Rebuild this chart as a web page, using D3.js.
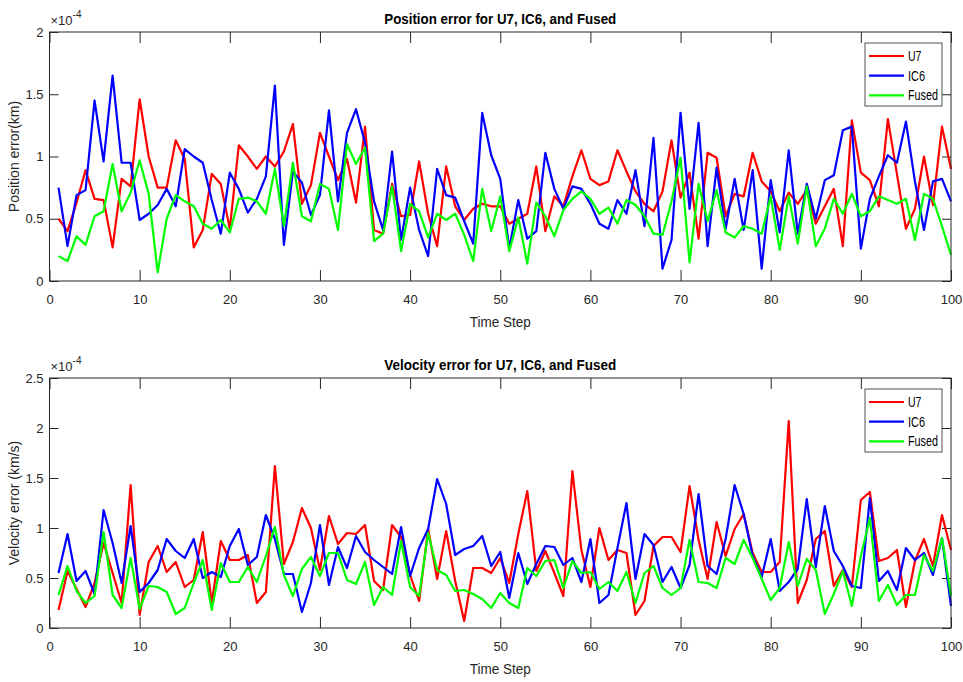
<!DOCTYPE html>
<html>
<head>
<meta charset="utf-8">
<script src="https://cdn.jsdelivr.net/npm/d3@7"></script>
<style>
  body { margin: 0; background: #fff; }
  svg { display: block; }
  .tick text { font-family: "Liberation Sans", Arial, sans-serif; font-size: 13px; fill: #262626; }
  .axis path, .axis line { stroke: #262626; }
</style>
</head>
<body>
<div id="chart"></div>
<script>
// time steps 1..100
var steps = d3.range(1, 101);

// position error (x1e-4 km)
var posU7 = [0.50,0.40,0.63,0.89,0.66,0.65,0.27,0.82,0.76,1.46,1.00,0.75,0.75,1.13,0.98,0.27,0.41,0.86,0.78,0.42,
  1.09,1.00,0.90,1.00,0.92,1.04,1.26,0.62,0.77,1.19,1.00,0.81,0.98,0.63,1.24,0.41,0.38,0.78,0.52,0.53,
  0.96,0.54,0.28,0.92,0.60,0.49,0.58,0.62,0.60,0.60,0.46,0.50,0.54,0.92,0.40,0.68,0.60,0.84,1.05,0.82,
  0.77,0.80,1.05,0.88,0.72,0.62,0.56,0.72,1.13,0.67,0.87,0.34,1.03,0.99,0.52,0.70,0.68,1.03,0.80,0.72,
  0.56,0.71,0.62,0.73,0.46,0.60,0.74,0.28,1.29,0.87,0.81,0.60,1.30,0.86,0.42,0.58,1.00,0.61,1.24,0.90];
var posIC6 = [0.75,0.28,0.69,0.73,1.45,0.96,1.65,0.95,0.95,0.49,0.54,0.61,0.74,0.60,1.06,1.00,0.95,0.65,0.38,0.87,
  0.74,0.55,0.66,0.84,1.57,0.29,0.88,0.79,0.53,0.69,1.37,0.64,1.19,1.38,1.11,0.64,0.41,1.04,0.33,0.75,
  0.41,0.20,0.90,0.69,0.67,0.48,0.30,1.35,1.01,0.82,0.26,0.65,0.34,0.40,1.03,0.74,0.58,0.76,0.74,0.62,
  0.46,0.42,0.65,0.54,0.89,0.44,1.15,0.10,0.33,1.35,0.58,1.27,0.28,0.91,0.42,0.82,0.41,0.89,0.10,0.81,
  0.39,1.05,0.38,0.78,0.50,0.81,0.85,1.21,1.24,0.26,0.66,0.84,1.01,0.95,1.28,0.80,0.41,0.80,0.82,0.64];
var posFused = [0.20,0.16,0.36,0.29,0.52,0.56,0.94,0.56,0.71,0.97,0.70,0.07,0.50,0.69,0.64,0.60,0.46,0.42,0.49,0.39,
  0.66,0.67,0.64,0.54,0.90,0.44,0.95,0.52,0.48,0.78,0.74,0.41,1.10,0.94,1.07,0.32,0.38,0.76,0.24,0.62,
  0.56,0.35,0.54,0.49,0.54,0.37,0.16,0.74,0.40,0.68,0.24,0.51,0.14,0.63,0.52,0.36,0.57,0.66,0.72,0.66,
  0.54,0.59,0.46,0.65,0.61,0.52,0.38,0.37,0.64,0.99,0.15,0.78,0.48,0.73,0.39,0.35,0.44,0.42,0.38,0.68,
  0.25,0.68,0.30,0.76,0.28,0.42,0.66,0.54,0.70,0.52,0.56,0.68,0.65,0.62,0.66,0.33,0.70,0.66,0.44,0.21];

// velocity error (x1e-4 km/s)
var velU7 = [0.18,0.57,0.39,0.21,0.45,0.85,0.55,0.25,1.43,0.13,0.66,0.82,0.56,0.66,0.41,0.48,0.96,0.25,0.87,0.68,
  0.68,0.73,0.25,0.36,1.62,0.64,0.86,1.20,1.00,0.58,1.12,0.84,0.95,0.94,1.03,0.47,0.38,1.03,0.91,0.53,
  0.27,0.99,0.49,0.97,0.47,0.07,0.60,0.60,0.55,0.70,0.45,0.94,1.37,0.57,0.77,0.55,0.32,1.57,0.78,0.41,
  1.00,0.68,0.78,0.75,0.13,0.27,0.82,0.91,0.91,0.76,1.42,0.88,0.49,1.06,0.72,0.99,1.14,0.75,0.56,0.56,
  0.66,2.07,0.25,0.48,0.89,0.97,0.42,0.58,0.41,1.28,1.36,0.67,0.70,0.78,0.21,0.67,0.89,0.62,1.13,0.78];
var velIC6 = [0.55,0.94,0.47,0.57,0.34,1.18,0.85,0.45,1.02,0.36,0.45,0.58,0.89,0.77,0.70,0.89,0.50,0.56,0.51,0.82,
  0.99,0.63,0.71,1.13,0.89,0.54,0.54,0.16,0.45,1.03,0.43,0.81,0.60,0.92,0.76,0.68,0.61,0.54,1.01,0.52,
  0.80,0.99,1.49,1.24,0.73,0.79,0.82,0.92,0.62,0.76,0.30,0.75,0.44,0.64,0.82,0.81,0.63,0.70,0.46,0.89,
  0.25,0.33,0.80,1.25,0.49,0.94,0.83,0.46,0.61,0.40,0.63,1.34,0.62,0.54,0.89,1.43,1.14,0.72,0.51,0.89,
  0.37,0.46,0.59,1.29,0.61,1.22,0.77,0.62,0.42,0.40,1.30,0.47,0.57,0.38,0.80,0.68,0.75,0.53,0.90,0.22];
var velFused = [0.33,0.62,0.37,0.25,0.32,0.96,0.33,0.20,0.70,0.19,0.42,0.41,0.36,0.14,0.20,0.45,0.68,0.18,0.65,0.46,
  0.46,0.61,0.46,0.72,1.01,0.53,0.32,0.59,0.71,0.52,0.75,0.75,0.48,0.44,0.66,0.23,0.41,0.33,0.87,0.41,
  0.32,0.95,0.58,0.53,0.37,0.38,0.34,0.29,0.20,0.35,0.25,0.20,0.60,0.52,0.67,0.68,0.40,0.67,0.55,0.56,
  0.39,0.46,0.37,0.56,0.25,0.55,0.62,0.40,0.33,0.40,0.88,0.46,0.45,0.40,0.70,0.64,0.88,0.70,0.49,0.28,
  0.40,0.86,0.42,0.69,0.58,0.14,0.34,0.57,0.22,0.72,1.10,0.27,0.43,0.23,0.33,0.33,0.73,0.57,0.90,0.32];

var seriesNames = ["U7", "IC6", "Fused"];
var seriesColors = ["#ff0000", "#0000ff", "#00ff00"];
var xTicks = [0, 10, 20, 30, 40, 50, 60, 70, 80, 90, 100];
var posYTicks = [0, 0.5, 1, 1.5, 2];
var velYTicks = [0, 0.5, 1, 1.5, 2, 2.5];

var W = 963, H = 682;
var font = "'Liberation Sans', Arial, sans-serif";
var svg = d3.select("#chart").append("svg")
  .attr("width", W)
  .attr("height", H);

var left = 49.5, right = 951;
var x = d3.scaleLinear().domain([0, 100]).range([left, right]);

// MATLAB text looks horizontally squeezed, so fit widths with textLength
var legendWidths = [13.5, 17, 30];

function drawPanel(opt) {
  var y = d3.scaleLinear().domain([0, opt.yMax]).range([opt.bottom, opt.top]);
  var g = svg.append("g");

  // axes (box style, ticks inward)
  g.append("g").attr("class", "axis")
    .attr("transform", "translate(0," + opt.bottom + ")")
    .call(d3.axisBottom(x).tickValues(xTicks).tickSize(-11).tickPadding(14).tickFormat(d3.format("d")))
    .call(function(a) { a.select(".domain").remove(); });
  g.append("g").attr("class", "axis")
    .attr("transform", "translate(0," + opt.top + ")")
    .call(d3.axisTop(x).tickValues(xTicks).tickSize(-11).tickFormat(""))
    .call(function(a) { a.select(".domain").remove(); });
  g.append("g").attr("class", "axis")
    .attr("transform", "translate(" + left + ",0)")
    .call(d3.axisLeft(y).tickValues(opt.yTicks).tickSize(-9).tickPadding(6).tickFormat(d3.format("")))
    .call(function(a) { a.select(".domain").remove(); });
  g.append("g").attr("class", "axis")
    .attr("transform", "translate(" + right + ",0)")
    .call(d3.axisRight(y).tickValues(opt.yTicks).tickSize(-9).tickFormat(""))
    .call(function(a) { a.select(".domain").remove(); });

  // data lines
  var line = d3.line()
    .x(function(d, i) { return x(steps[i]); })
    .y(function(d) { return y(d); });
  opt.series.forEach(function(s, k) {
    g.append("path")
      .attr("d", line(s))
      .attr("fill", "none")
      .attr("stroke", seriesColors[k])
      .attr("stroke-width", 2.2)
      .attr("stroke-linejoin", "round");
  });

  // box
  g.append("rect")
    .attr("x", left).attr("y", opt.top)
    .attr("width", right - left).attr("height", opt.bottom - opt.top)
    .attr("fill", "none").attr("stroke", "#262626").attr("stroke-width", 1);

  // title
  g.append("text")
    .attr("x", (left + right) / 2).attr("y", opt.top - 8)
    .attr("text-anchor", "middle")
    .attr("textLength", 232).attr("lengthAdjust", "spacingAndGlyphs")
    .style("font-family", font)
    .style("font-size", "15.5px").style("font-weight", "bold")
    .attr("fill", "#000")
    .text(opt.title);

  // exponent
  var ex = g.append("text")
    .attr("x", left + 1).attr("y", opt.top - 7)
    .style("font-family", font)
    .style("font-size", "13px").attr("fill", "#262626");
  ex.append("tspan").text("\u00d710");
  ex.append("tspan").attr("dy", -7).style("font-size", "10px").text("-4");

  // x label
  g.append("text")
    .attr("x", (left + right) / 2).attr("y", opt.bottom + 46)
    .attr("text-anchor", "middle")
    .attr("textLength", 61).attr("lengthAdjust", "spacingAndGlyphs")
    .style("font-family", font)
    .style("font-size", "14.5px").attr("fill", "#262626")
    .text("Time Step");

  // y label
  g.append("text")
    .attr("transform", "translate(19," + ((opt.top + opt.bottom) / 2) + ") rotate(-90)")
    .attr("text-anchor", "middle")
    .style("font-family", font)
    .style("font-size", "14px").attr("fill", "#262626")
    .text(opt.ylabel);

  // legend
  var lx = right - 86, ly = opt.top + 11;
  var lg = g.append("g").attr("transform", "translate(" + lx + "," + ly + ")");
  lg.append("rect").attr("width", 77).attr("height", 63)
    .attr("fill", "#fff").attr("stroke", "#262626").attr("stroke-width", 0.8);
  seriesNames.forEach(function(name, k) {
    var ry = 13 + k * 19.7;
    lg.append("line").attr("x1", 4).attr("x2", 39).attr("y1", ry).attr("y2", ry)
      .attr("stroke", seriesColors[k]).attr("stroke-width", 2.2);
    lg.append("text").attr("x", 43).attr("y", ry + 5)
      .attr("textLength", legendWidths[k]).attr("lengthAdjust", "spacingAndGlyphs")
      .style("font-family", font)
      .style("font-size", "14px").attr("fill", "#000")
      .text(name);
  });
}

drawPanel({
  top: 32, bottom: 281, yMax: 2, yTicks: posYTicks,
  series: [posU7, posIC6, posFused],
  title: "Position error for U7, IC6, and Fused",
  ylabel: "Position error(km)"
});

drawPanel({
  top: 378, bottom: 628, yMax: 2.5, yTicks: velYTicks,
  series: [velU7, velIC6, velFused],
  title: "Velocity error  for U7, IC6, and Fused",
  ylabel: "Velocity error (km/s)"
});
</script>
</body>
</html>
